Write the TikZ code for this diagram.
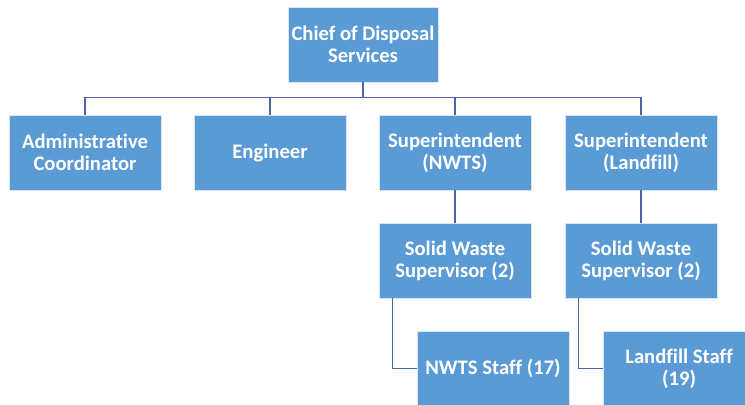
\documentclass[tikz,border=0pt]{standalone}
\usepackage{fontspec}
\setsansfont{Carlito}[Ligatures=NoCommon]
\usetikzlibrary{positioning}
\definecolor{orgblue}{RGB}{91,155,213}
\definecolor{orgline}{RGB}{74,102,168}
\tikzset{
	org_base/.style={font=\sffamily\bfseries\fontsize{15.5}{16.5}\selectfont, node distance=81pt, text=white},
	org_block/.style={org_base, draw=white!75!orgblue, fill=orgblue, rectangle, on grid, align=center, minimum width=114pt, minimum height=56.25pt, inner sep=2pt},
	org_line/.style={draw=orgline, line width=0.9pt}
}
\begin{document}
\begin{tikzpicture}
		\useasboundingbox (0,0) rectangle (558.75pt,-303pt);
		\clip (0,0) rectangle (558.75pt,-303pt);
		\node [org_block, minimum width=112.5pt] (chief) at (272.25pt,-33.4pt) {Chief of Disposal\\Services};
		\node [org_block, below left = 81pt and 69.75pt of chief] (engineer) {Engineer};
		\node [org_block, left = 138.75pt of engineer] (admin) {Administrative\\Coordinator};
		\node [org_block, right = 138.75pt of engineer] (supnwts) {Superintendent\\(NWTS)};
		\node [org_block, right = 139.5pt of supnwts] (suplandfill) {Superintendent\\(Landfill)};

		\node [org_block, below = of supnwts] (swsnwts) {Solid Waste\\Supervisor (2)};
		\node [org_block, below = of suplandfill] (swslandfill) {Solid Waste\\Supervisor (2)};
		\node [org_block, below right = 81pt and 28.5pt of swsnwts] (staffnwts) {NWTS Staff (17)};
		\node [org_block, below right = 81pt and 28.5pt of swslandfill] (stafflandfill) {Landfill Staff\\(19)};

		\foreach \n in {admin,engineer,supnwts,suplandfill}
			\draw [org_line] (chief.south) -- ++(0,-11.25pt) -| (\n.north);
		\draw [org_line] (supnwts) -- (swsnwts);
		\draw [org_line] (suplandfill) -- (swslandfill);
		\draw [org_line] ([xshift=10.5pt]swsnwts.south west) |- (staffnwts.west);
		\draw [org_line] ([xshift=10.5pt]swslandfill.south west) |- (stafflandfill.west);
	\end{tikzpicture}
\end{document}
